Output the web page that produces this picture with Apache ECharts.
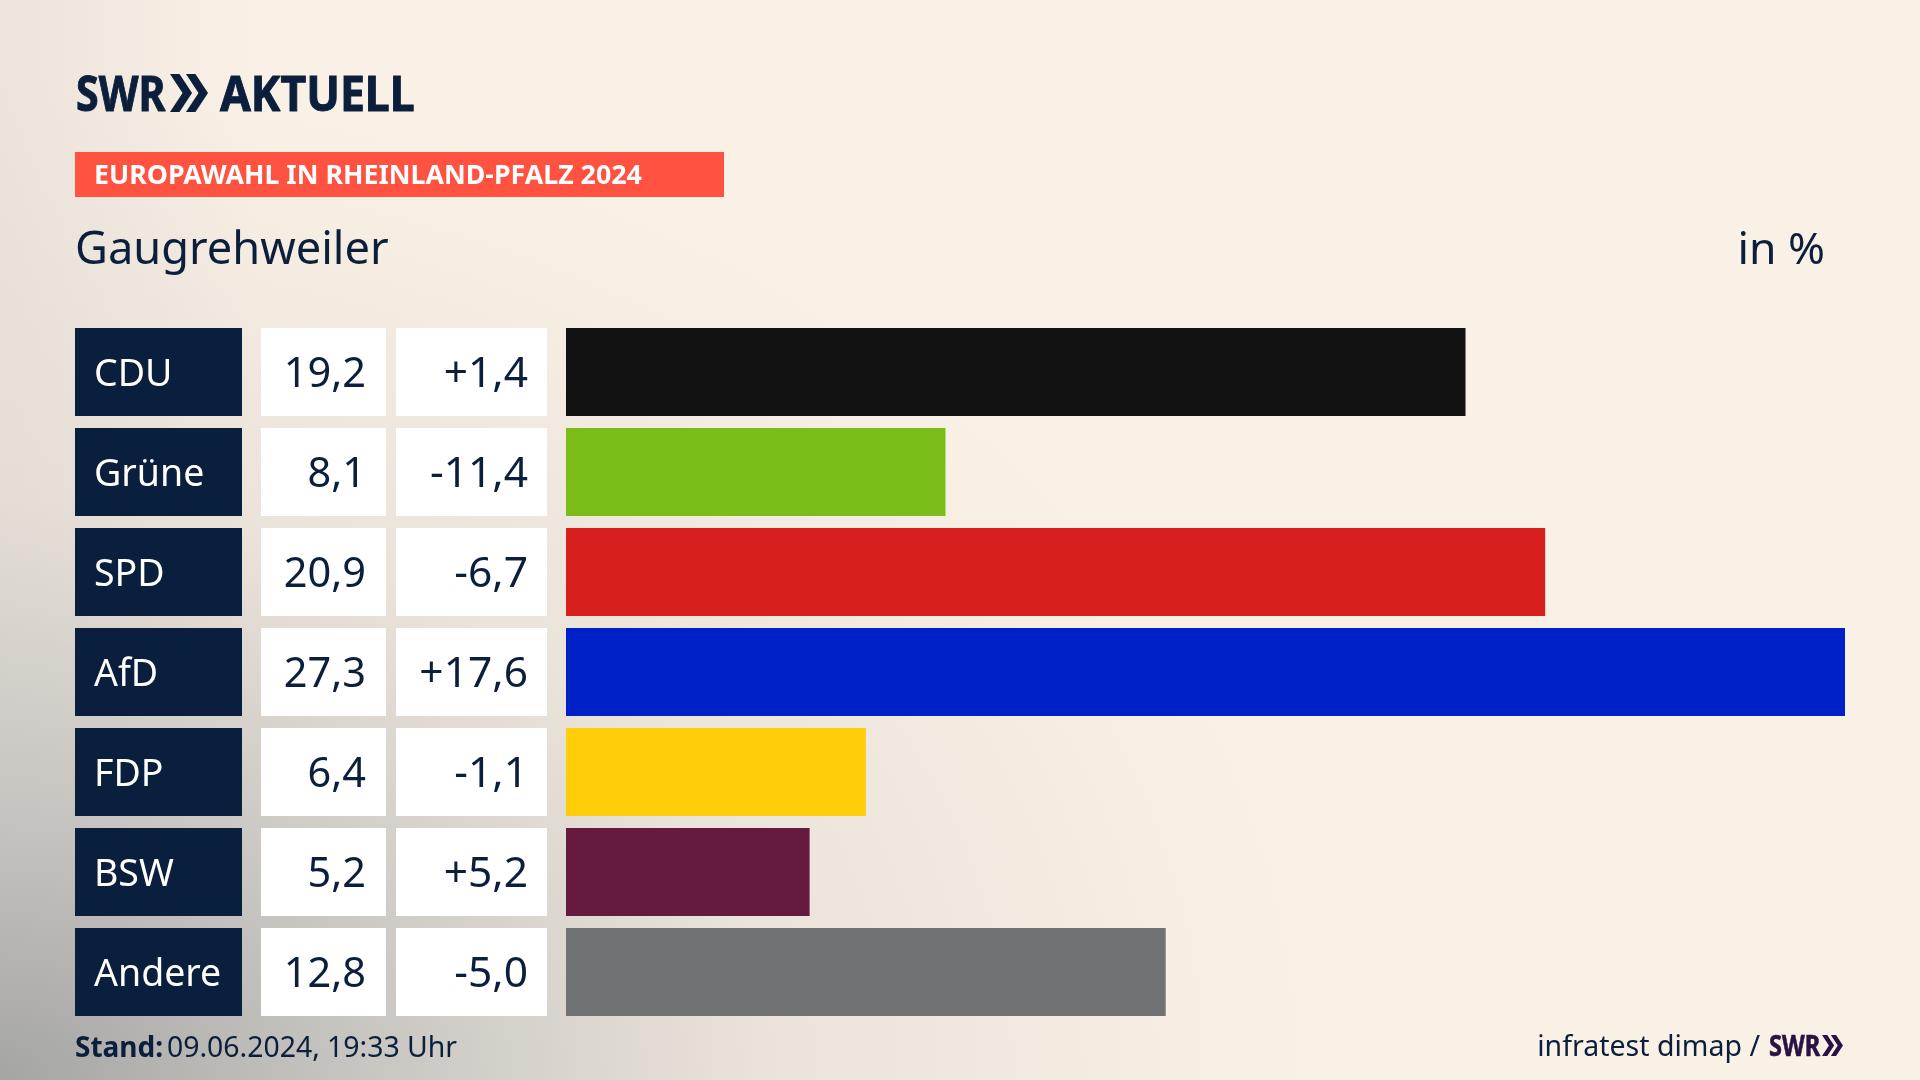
<!DOCTYPE html>
<html lang="de">
<head>
<meta charset="utf-8">
<title>Europawahl in Rheinland-Pfalz 2024 - Gaugrehweiler</title>
<style>
  html, body { margin: 0; padding: 0; }
  #main {
    width: 1920px;
    height: 1080px;
    background:
      radial-gradient(ellipse 1320px 1000px at 0 100%, rgba(165, 165, 164, 1) 0%, rgba(198, 196, 192, .95) 28%, rgba(222, 216, 208, .55) 58%, rgba(250, 241, 230, 0) 100%),
      linear-gradient(90deg, rgba(226, 220, 212, .6) 0, rgba(250, 241, 230, 0) 260px),
      #faf1e6;
  }
</style>
</head>
<body>
<div id="main"></div>
<script src="https://cdn.jsdelivr.net/npm/echarts@6/dist/echarts.min.js"></script>
<script>
const parties = ['CDU', 'Grüne', 'SPD', 'AfD', 'FDP', 'BSW', 'Andere']
const results = [19.2, 8.1, 20.9, 27.3, 6.4, 5.2, 12.8]
const changes = ['+1,4', '-11,4', '-6,7', '+17,6', '-1,1', '+5,2', '-5,0']
const barColors = ['#121212', '#7abd18', '#d71f1d', '#0021c8', '#ffcd0a', '#651a3e', '#717274']

const navy = '#0b1f3d'
const font = '"Noto Sans", sans-serif'

function chevrons (x, y, w, h, color) {
  // doppelter Pfeil aus dem SWR Logo
  const t = w * 0.58
  const s = w * 0.25
  const one = (x0) => ({
    type: 'polygon',
    shape: {
      points: [[x0, y], [x0 + s, y], [x0 + t, y + h / 2], [x0 + s, y + h], [x0, y + h], [x0 + t - s, y + h / 2]]
    },
    style: {fill: color}
  })
  return [one(x), one(x + w * 0.42)]
}

const chart = echarts.init(document.getElementById('main'), null, {renderer: 'canvas'})

const option = {
  animation: false,
  backgroundColor: 'transparent',
  grid: {left: 566, top: 322, width: 1279, height: 700},
  xAxis: {type: 'value', min: 0, max: 27.3, show: false},
  yAxis: {type: 'category', data: parties, inverse: true, show: false},
  series: [
    {
      type: 'bar',
      barWidth: 88,
      data: results.map((v, i) => ({value: v, itemStyle: {color: barColors[i]}}))
    },
    {
      // Tabelle links: Partei, Ergebnis, Differenz
      type: 'custom',
      clip: false,
      data: parties.map((p, i) => [0, i]),
      encode: {x: 0, y: 1},
      renderItem: function (params, api) {
        const i = api.value(1)
        const cy = api.coord([0, i])[1]
        const top = cy - 44
        return {
          type: 'group',
          children: [
            {type: 'rect', shape: {x: 75, y: top, width: 167, height: 88}, style: {fill: '#0a1f3d'}},
            {type: 'rect', shape: {x: 261, y: top, width: 125, height: 88}, style: {fill: '#fff'}},
            {type: 'rect', shape: {x: 396, y: top, width: 151, height: 88}, style: {fill: '#fff'}},
            {type: 'text', style: {x: 94, y: cy + 3, text: parties[i], fill: '#fff', font: '37.5px ' + font, textAlign: 'left', textVerticalAlign: 'middle'}},
            {type: 'text', style: {x: 366, y: cy + 3, text: results[i].toFixed(1).replace('.', ','), fill: navy, font: '41.5px ' + font, textAlign: 'right', textVerticalAlign: 'middle'}},
            {type: 'text', style: {x: 528, y: cy + 3, text: changes[i], fill: navy, font: '42.5px ' + font, textAlign: 'right', textVerticalAlign: 'middle'}}
          ]
        }
      }
    }
  ],
  graphic: {
    elements: [
      {type: 'text', x: 76, y: 122, scaleX: 0.84, style: {text: 'SWR', fill: navy, stroke: navy, lineWidth: 1, font: 'bold 49px ' + font, textVerticalAlign: 'bottom'}},
      ...chevrons(170, 74, 38, 38, navy),
      {type: 'text', x: 220, y: 122, scaleX: 0.91, style: {text: 'AKTUELL', fill: navy, stroke: navy, lineWidth: 1, font: 'bold 49px ' + font, textVerticalAlign: 'bottom'}},
      {type: 'rect', shape: {x: 75, y: 152, width: 649, height: 45}, style: {fill: '#ff5240'}},
      {type: 'text', x: 94, y: 176, style: {text: 'EUROPAWAHL IN RHEINLAND-PFALZ 2024', fill: '#fff', font: 'bold 26.75px ' + font, textVerticalAlign: 'middle'}},
      {type: 'text', x: 75, y: 251, style: {text: 'Gaugrehweiler', fill: navy, font: '45.2px ' + font, textVerticalAlign: 'middle'}},
      {type: 'text', x: 1825, y: 251, style: {text: 'in %', fill: navy, font: '44.5px ' + font, textAlign: 'right', textVerticalAlign: 'middle'}},
      {type: 'text', x: 75, y: 1049, style: {text: 'Stand:', fill: navy, font: 'bold 28px ' + font, textVerticalAlign: 'middle'}},
      {type: 'text', x: 167, y: 1049, style: {text: '09.06.2024, 19:33 Uhr', fill: navy, font: '28.4px ' + font, textVerticalAlign: 'middle'}},
      {type: 'text', x: 1760, y: 1048, style: {text: 'infratest dimap /', fill: navy, font: '28.5px ' + font, textAlign: 'right', textVerticalAlign: 'middle'}},
      {type: 'text', x: 1769, y: 1062, scaleX: 0.84, style: {text: 'SWR', fill: '#2a1245', stroke: '#2a1245', lineWidth: 0.6, font: 'bold 28px ' + font, textVerticalAlign: 'bottom'}},
      ...chevrons(1822, 1035, 21, 21, '#2a1245')
    ]
  }
}

chart.setOption(option)
window.addEventListener('resize', () => {
  chart.resize()
})
</script>
</body>
</html>
